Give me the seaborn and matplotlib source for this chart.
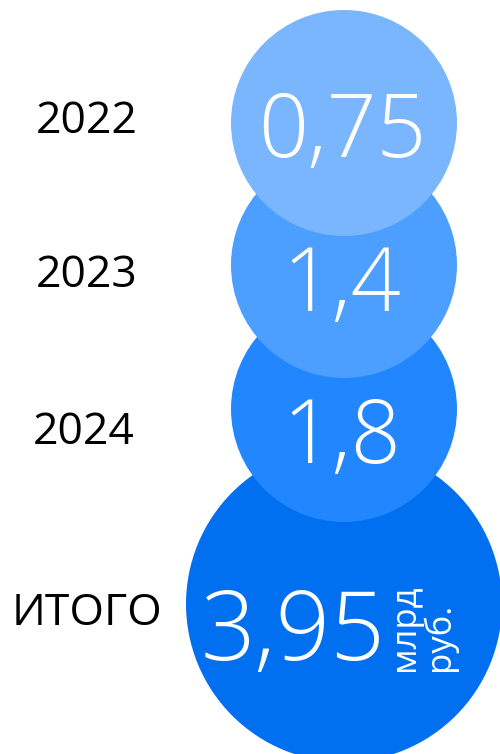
import pandas as pd
import numpy as np
import matplotlib
matplotlib.use("Agg")
import matplotlib.pyplot as plt
import seaborn as sns

# ---- data ----
labels = ["2022", "2023", "2024", "ИТОГО"]
values = [0.75, 1.4, 1.8, 3.95]
value_text = ["0,75", "1,4", "1,8", "3,95"]
unit_lines = ["млрд", "руб."]
colors = ["#7AB6FE", "#4D9FFF", "#2287FF", "#0070F0"]

# ---- layout (pixels, figure is 500x754 at dpi 100) ----
cx = 344
cy = [123, 265, 409, 604]
radius = [113, 113, 113, 158]
label_x = [87, 87, 84, 87]
label_base = [133, 287, 444, 625]
num_base = [157, 311, 463, 660]

sns.set_style("white")
plt.rcParams["font.family"] = ["Open Sans", "DejaVu Sans"]

fig = plt.figure(figsize=(5, 7.54), dpi=100)
ax = fig.add_axes([0, 0, 1, 1])

df = pd.DataFrame({
    "label": labels,
    "value": values,
    "x": [cx] * len(labels),
    "y": cy,
})
# scatter size is area in points^2; 1 px = 0.72 pt at dpi 100
sizes = {lab: (2 * r * 0.72) ** 2 for lab, r in zip(labels, radius)}
palette = dict(zip(labels, colors))

# draw the big circle first so the smaller ones sit on top
sns.scatterplot(
    data=df.iloc[::-1], x="x", y="y", hue="label", size="label",
    palette=palette, sizes=sizes, legend=False, linewidth=0,
    alpha=1, ax=ax, zorder=2,
)

for i, lab in enumerate(labels):
    ax.text(label_x[i], label_base[i], lab, ha="center", va="baseline",
            fontsize=32, color="black")

for i in range(3):
    ax.text(342, num_base[i], value_text[i], ha="center", va="baseline",
            fontsize=63, color="white", fontweight="light", zorder=3)

ax.text(385, num_base[3], value_text[3], ha="right", va="baseline",
        fontsize=69, color="white", fontweight="light", zorder=3)
ax.text(414, 671, unit_lines[0], rotation=90, rotation_mode="anchor",
        ha="left", va="baseline", fontsize=25, color="white", zorder=3)
ax.text(449, 671, unit_lines[1], rotation=90, rotation_mode="anchor",
        ha="left", va="baseline", fontsize=25, color="white", zorder=3)

ax.set_xlim(0, 500)
ax.set_ylim(754, 0)
ax.set_axis_off()

plt.savefig("out.png", dpi=100)
plt.close()
